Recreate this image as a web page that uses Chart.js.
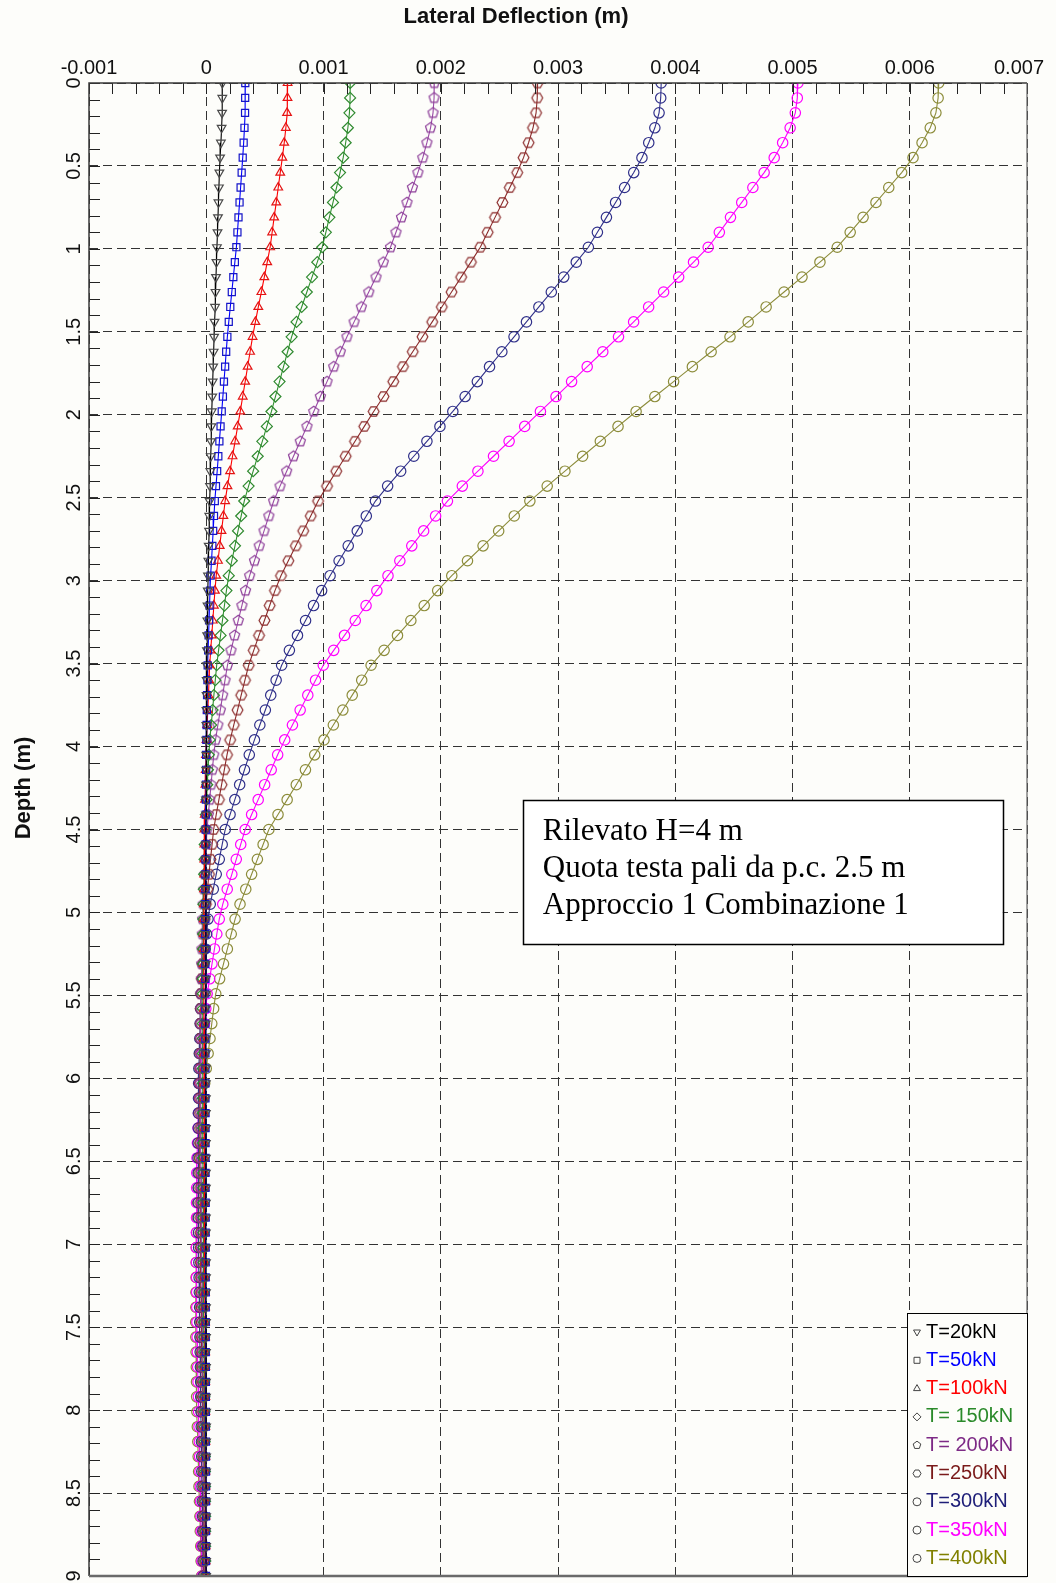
<!DOCTYPE html>
<html>
<head>
<meta charset="utf-8">
<script src="https://cdn.jsdelivr.net/npm/chart.js@4.4.1/dist/chart.umd.min.js"></script>
<style>
html,body{margin:0;padding:0;background:#fdfdfa;}
canvas{display:block;}
</style>
</head>
<body>
<canvas id="c" width="1056" height="1583"></canvas>
<script>
// ---------------- DATA ----------------
const depths = [0,0.09,0.18,0.27,0.36,0.45,0.54,0.63,0.72,0.81,0.9,0.99,1.08,1.17,1.26,1.35,1.44,1.53,1.62,1.71,1.8,1.89,1.98,2.07,2.16,2.25,2.34,2.43,2.52,2.61,2.7,2.79,2.88,2.97,3.06,3.15,3.24,3.33,3.42,3.51,3.6,3.69,3.78,3.87,3.96,4.05,4.14,4.23,4.32,4.41,4.5,4.59,4.68,4.77,4.86,4.95,5.04,5.13,5.22,5.31,5.4,5.49,5.58,5.67,5.76,5.85,5.94,6.03,6.12,6.21,6.3,6.39,6.48,6.57,6.66,6.75,6.84,6.93,7.02,7.11,7.2,7.29,7.38,7.47,7.56,7.65,7.74,7.83,7.92,8.01,8.1,8.19,8.28,8.37,8.46,8.55,8.64,8.73,8.82,8.91,9.0];

const seriesLabels = ['T=20kN','T=50kN','T=100kN','T= 150kN','T= 200kN','T=250kN','T=300kN','T=350kN','T=400kN'];

const defl20 = [
0.137e-3,0.137e-3,0.135e-3,0.131e-3,0.125e-3,0.118e-3,
0.112e-3,0.108e-3,0.104e-3,0.1e-3,0.096e-3,0.091e-3,
0.087e-3,0.083e-3,0.079e-3,0.075e-3,0.071e-3,
0.067e-3,0.063e-3,0.059e-3,0.055e-3,0.051e-3,0.047e-3,
0.044e-3,0.041e-3,0.038e-3,0.035e-3,0.032e-3,
0.029e-3,0.026e-3,0.024e-3,0.021e-3,0.018e-3,0.015e-3,
0.013e-3,0.011e-3,0.01e-3,0.008e-3,0.006e-3,
0.005e-3,0.004e-3,0.003e-3,0.002e-3,0.001e-3,0,
0,-0.001e-3,-0.001e-3,-0.002e-3,-0.002e-3,
-0.003e-3,
-0.003e-3,-0.004e-3,-0.004e-3,-0.004e-3,-0.004e-3,
-0.004e-3,-0.004e-3,-0.004e-3,-0.004e-3,-0.004e-3,-0.004e-3,
-0.004e-3,-0.004e-3,-0.004e-3,-0.003e-3,-0.003e-3,
-0.003e-3,-0.003e-3,-0.003e-3,-0.003e-3,-0.003e-3,-0.003e-3,
-0.003e-3,-0.003e-3,-0.003e-3,-0.003e-3,-0.003e-3,
-0.002e-3,-0.002e-3,-0.002e-3,-0.002e-3,-0.002e-3,-0.002e-3,
-0.002e-3,-0.002e-3,-0.002e-3,-0.002e-3,-0.002e-3,
-0.001e-3,-0.001e-3,-0.001e-3,-0.001e-3,-0.001e-3,-0.001e-3,
-0.001e-3,-0.001e-3,-0.001e-3,-0.001e-3,-0.001e-3,-0.001e-3];

const defl50 = [
0.333e-3,0.332e-3,0.331e-3,0.326e-3,0.319e-3,0.311e-3,
0.302e-3,0.293e-3,0.284e-3,0.275e-3,0.266e-3,0.257e-3,
0.244e-3,0.231e-3,0.218e-3,0.205e-3,0.192e-3,
0.18e-3,0.17e-3,0.161e-3,0.151e-3,0.142e-3,0.132e-3,
0.122e-3,0.112e-3,0.103e-3,0.093e-3,0.083e-3,
0.073e-3,0.066e-3,0.059e-3,0.052e-3,0.045e-3,0.037e-3,
0.032e-3,0.028e-3,0.024e-3,0.02e-3,0.016e-3,
0.012e-3,0.01e-3,0.007e-3,0.005e-3,0.003e-3,0.001e-3,
-0.001e-3,-0.001e-3,-0.002e-3,-0.003e-3,-0.004e-3,
-0.005e-3,
-0.006e-3,-0.006e-3,-0.007e-3,-0.007e-3,-0.008e-3,
-0.008e-3,-0.008e-3,-0.008e-3,-0.008e-3,-0.008e-3,-0.008e-3,
-0.008e-3,-0.008e-3,-0.008e-3,-0.007e-3,-0.007e-3,
-0.007e-3,-0.007e-3,-0.006e-3,-0.006e-3,-0.006e-3,-0.006e-3,
-0.006e-3,-0.006e-3,-0.005e-3,-0.005e-3,-0.005e-3,
-0.005e-3,-0.005e-3,-0.005e-3,-0.004e-3,-0.004e-3,-0.004e-3,
-0.004e-3,-0.004e-3,-0.003e-3,-0.003e-3,-0.003e-3,
-0.003e-3,-0.003e-3,-0.003e-3,-0.002e-3,-0.002e-3,-0.002e-3,
-0.002e-3,-0.002e-3,-0.002e-3,-0.002e-3,-0.002e-3,-0.002e-3];

const defl100 = [
0.694e-3,0.693e-3,0.689e-3,0.679e-3,0.665e-3,0.649e-3,
0.631e-3,0.614e-3,0.597e-3,0.579e-3,0.562e-3,0.545e-3,
0.52e-3,0.495e-3,0.47e-3,0.444e-3,0.419e-3,
0.395e-3,0.374e-3,0.353e-3,0.332e-3,0.311e-3,0.29e-3,
0.268e-3,0.246e-3,0.224e-3,0.203e-3,0.181e-3,
0.161e-3,0.146e-3,0.13e-3,0.115e-3,0.1e-3,0.085e-3,
0.074e-3,0.065e-3,0.056e-3,0.047e-3,0.038e-3,
0.029e-3,0.024e-3,0.019e-3,0.013e-3,0.008e-3,0.002e-3,
-0.002e-3,-0.004e-3,-0.007e-3,-0.01e-3,-0.012e-3,
-0.015e-3,
-0.016e-3,-0.017e-3,-0.018e-3,-0.019e-3,-0.02e-3,
-0.02e-3,-0.02e-3,-0.02e-3,-0.02e-3,-0.02e-3,-0.02e-3,
-0.02e-3,-0.019e-3,-0.019e-3,-0.019e-3,-0.018e-3,
-0.018e-3,-0.017e-3,-0.017e-3,-0.016e-3,-0.016e-3,-0.015e-3,
-0.015e-3,-0.014e-3,-0.014e-3,-0.013e-3,-0.012e-3,
-0.012e-3,-0.012e-3,-0.011e-3,-0.011e-3,-0.01e-3,-0.01e-3,
-0.01e-3,-0.009e-3,-0.009e-3,-0.009e-3,-0.008e-3,
-0.008e-3,-0.008e-3,-0.007e-3,-0.007e-3,-0.007e-3,-0.006e-3,
-0.006e-3,-0.006e-3,-0.006e-3,-0.005e-3,-0.005e-3,-0.005e-3];

const defl150 = [
1.228e-3,1.227e-3,1.221e-3,1.208e-3,1.189e-3,1.168e-3,
1.141e-3,1.111e-3,1.081e-3,1.05e-3,1.02e-3,0.989e-3,
0.947e-3,0.902e-3,0.858e-3,0.814e-3,0.77e-3,
0.728e-3,0.694e-3,0.659e-3,0.625e-3,0.59e-3,0.556e-3,
0.517e-3,0.478e-3,0.439e-3,0.4e-3,0.361e-3,
0.324e-3,0.298e-3,0.271e-3,0.245e-3,0.218e-3,0.192e-3,
0.172e-3,0.155e-3,0.138e-3,0.122e-3,0.105e-3,
0.089e-3,0.077e-3,0.065e-3,0.054e-3,0.042e-3,0.03e-3,
0.022e-3,0.015e-3,0.009e-3,0.003e-3,-0.004e-3,
-0.01e-3,
-0.013e-3,-0.015e-3,-0.018e-3,-0.021e-3,-0.024e-3,
-0.025e-3,-0.026e-3,-0.027e-3,-0.028e-3,-0.029e-3,-0.03e-3,
-0.03e-3,-0.03e-3,-0.03e-3,-0.03e-3,-0.03e-3,
-0.03e-3,-0.03e-3,-0.029e-3,-0.029e-3,-0.028e-3,-0.028e-3,
-0.027e-3,-0.027e-3,-0.026e-3,-0.025e-3,-0.025e-3,
-0.024e-3,-0.023e-3,-0.022e-3,-0.022e-3,-0.021e-3,-0.02e-3,
-0.019e-3,-0.019e-3,-0.018e-3,-0.017e-3,-0.016e-3,
-0.015e-3,-0.014e-3,-0.013e-3,-0.012e-3,-0.011e-3,-0.01e-3,
-0.01e-3,-0.009e-3,-0.009e-3,-0.009e-3,-0.008e-3,-0.008e-3];

const defl200 = [
1.945e-3,1.943e-3,1.934e-3,1.913e-3,1.882e-3,1.847e-3,
1.805e-3,1.758e-3,1.712e-3,1.665e-3,1.618e-3,1.571e-3,
1.51e-3,1.448e-3,1.386e-3,1.323e-3,1.261e-3,
1.2e-3,1.143e-3,1.087e-3,1.03e-3,0.973e-3,0.917e-3,
0.859e-3,0.802e-3,0.744e-3,0.686e-3,0.629e-3,
0.575e-3,0.534e-3,0.493e-3,0.452e-3,0.411e-3,0.37e-3,
0.335e-3,0.304e-3,0.273e-3,0.242e-3,0.211e-3,
0.181e-3,0.16e-3,0.14e-3,0.12e-3,0.099e-3,0.079e-3,
0.064e-3,0.052e-3,0.041e-3,0.029e-3,0.018e-3,
0.006e-3,
0,-0.007e-3,-0.013e-3,-0.02e-3,-0.026e-3,
-0.031e-3,-0.034e-3,-0.037e-3,-0.039e-3,-0.042e-3,-0.045e-3,
-0.046e-3,-0.047e-3,-0.048e-3,-0.049e-3,-0.049e-3,
-0.05e-3,-0.049e-3,-0.048e-3,-0.047e-3,-0.046e-3,-0.045e-3,
-0.044e-3,-0.043e-3,-0.043e-3,-0.042e-3,-0.041e-3,
-0.04e-3,-0.038e-3,-0.036e-3,-0.034e-3,-0.032e-3,-0.031e-3,
-0.029e-3,-0.029e-3,-0.028e-3,-0.027e-3,-0.026e-3,
-0.025e-3,-0.024e-3,-0.023e-3,-0.022e-3,-0.021e-3,-0.02e-3,
-0.02e-3,-0.019e-3,-0.018e-3,-0.017e-3,-0.016e-3,-0.015e-3];

const defl250 = [
2.826e-3,2.823e-3,2.813e-3,2.787e-3,2.749e-3,2.706e-3,
2.652e-3,2.589e-3,2.526e-3,2.463e-3,2.4e-3,2.337e-3,
2.257e-3,2.174e-3,2.092e-3,2.009e-3,1.927e-3,
1.844e-3,1.761e-3,1.678e-3,1.595e-3,1.512e-3,1.428e-3,
1.348e-3,1.269e-3,1.189e-3,1.109e-3,1.03e-3,
0.954e-3,0.891e-3,0.827e-3,0.764e-3,0.7e-3,0.637e-3,
0.586e-3,0.541e-3,0.496e-3,0.45e-3,0.405e-3,
0.362e-3,0.33e-3,0.298e-3,0.267e-3,0.235e-3,0.204e-3,
0.177e-3,0.154e-3,0.131e-3,0.108e-3,0.085e-3,
0.063e-3,
0.05e-3,0.036e-3,0.023e-3,0.01e-3,-0.003e-3,
-0.013e-3,-0.019e-3,-0.025e-3,-0.032e-3,-0.038e-3,-0.044e-3,
-0.047e-3,-0.048e-3,-0.05e-3,-0.052e-3,-0.054e-3,
-0.055e-3,-0.055e-3,-0.055e-3,-0.055e-3,-0.055e-3,-0.055e-3,
-0.054e-3,-0.053e-3,-0.053e-3,-0.052e-3,-0.051e-3,
-0.05e-3,-0.048e-3,-0.046e-3,-0.044e-3,-0.042e-3,-0.041e-3,
-0.039e-3,-0.037e-3,-0.035e-3,-0.033e-3,-0.032e-3,
-0.03e-3,-0.029e-3,-0.028e-3,-0.027e-3,-0.026e-3,-0.025e-3,
-0.025e-3,-0.024e-3,-0.023e-3,-0.022e-3,-0.021e-3,-0.02e-3];

const defl300 = [
3.88e-3,3.876e-3,3.862e-3,3.826e-3,3.774e-3,3.716e-3,
3.646e-3,3.568e-3,3.491e-3,3.413e-3,3.336e-3,3.259e-3,
3.156e-3,3.049e-3,2.943e-3,2.837e-3,2.731e-3,
2.625e-3,2.521e-3,2.416e-3,2.312e-3,2.208e-3,2.103e-3,
1.993e-3,1.882e-3,1.77e-3,1.658e-3,1.547e-3,
1.443e-3,1.365e-3,1.288e-3,1.211e-3,1.133e-3,1.056e-3,
0.984e-3,0.915e-3,0.847e-3,0.778e-3,0.709e-3,
0.643e-3,0.596e-3,0.55e-3,0.504e-3,0.457e-3,0.411e-3,
0.367e-3,0.326e-3,0.285e-3,0.244e-3,0.203e-3,
0.162e-3,
0.136e-3,0.111e-3,0.085e-3,0.06e-3,0.034e-3,
0.015e-3,0.003e-3,-0.009e-3,-0.02e-3,-0.032e-3,-0.044e-3,
-0.048e-3,-0.052e-3,-0.055e-3,-0.059e-3,-0.063e-3,
-0.065e-3,-0.066e-3,-0.067e-3,-0.068e-3,-0.069e-3,-0.07e-3,
-0.069e-3,-0.068e-3,-0.068e-3,-0.067e-3,-0.066e-3,
-0.065e-3,-0.063e-3,-0.061e-3,-0.059e-3,-0.057e-3,-0.056e-3,
-0.054e-3,-0.052e-3,-0.05e-3,-0.048e-3,-0.047e-3,
-0.045e-3,-0.043e-3,-0.041e-3,-0.039e-3,-0.038e-3,-0.036e-3,
-0.034e-3,-0.032e-3,-0.03e-3,-0.029e-3,-0.027e-3,-0.025e-3];

const defl350 = [
5.046e-3,5.041e-3,5.024e-3,4.98e-3,4.916e-3,4.844e-3,
4.758e-3,4.662e-3,4.567e-3,4.471e-3,4.376e-3,4.281e-3,
4.156e-3,4.029e-3,3.901e-3,3.773e-3,3.645e-3,
3.516e-3,3.382e-3,3.249e-3,3.116e-3,2.983e-3,2.85e-3,
2.716e-3,2.583e-3,2.45e-3,2.317e-3,2.184e-3,
2.057e-3,1.956e-3,1.854e-3,1.753e-3,1.651e-3,1.55e-3,
1.455e-3,1.363e-3,1.271e-3,1.179e-3,1.087e-3,
0.998e-3,0.932e-3,0.866e-3,0.801e-3,0.735e-3,0.669e-3,
0.609e-3,0.554e-3,0.498e-3,0.443e-3,0.387e-3,
0.332e-3,
0.294e-3,0.256e-3,0.218e-3,0.179e-3,0.141e-3,
0.111e-3,0.09e-3,0.07e-3,0.049e-3,0.029e-3,0.008e-3,
-0.004e-3,-0.015e-3,-0.026e-3,-0.037e-3,-0.048e-3,
-0.057e-3,-0.061e-3,-0.066e-3,-0.07e-3,-0.075e-3,-0.079e-3,
-0.081e-3,-0.082e-3,-0.083e-3,-0.083e-3,-0.084e-3,
-0.085e-3,-0.084e-3,-0.083e-3,-0.082e-3,-0.081e-3,-0.08e-3,
-0.078e-3,-0.076e-3,-0.073e-3,-0.07e-3,-0.067e-3,
-0.065e-3,-0.062e-3,-0.059e-3,-0.057e-3,-0.054e-3,-0.051e-3,
-0.049e-3,-0.046e-3,-0.043e-3,-0.04e-3,-0.038e-3,-0.035e-3];

const defl400 = [
6.247e-3,6.242e-3,6.223e-3,6.175e-3,6.105e-3,6.028e-3,
5.931e-3,5.821e-3,5.712e-3,5.602e-3,5.492e-3,5.382e-3,
5.234e-3,5.081e-3,4.928e-3,4.775e-3,4.622e-3,
4.467e-3,4.306e-3,4.146e-3,3.986e-3,3.826e-3,3.666e-3,
3.512e-3,3.361e-3,3.21e-3,3.059e-3,2.908e-3,
2.76e-3,2.627e-3,2.494e-3,2.361e-3,2.228e-3,2.094e-3,
1.974e-3,1.859e-3,1.745e-3,1.631e-3,1.517e-3,
1.406e-3,1.326e-3,1.245e-3,1.165e-3,1.084e-3,1.004e-3,
0.925e-3,0.846e-3,0.768e-3,0.69e-3,0.612e-3,
0.534e-3,
0.485e-3,0.436e-3,0.387e-3,0.337e-3,0.288e-3,
0.246e-3,0.213e-3,0.18e-3,0.147e-3,0.114e-3,0.081e-3,
0.063e-3,0.047e-3,0.032e-3,0.016e-3,0,
-0.013e-3,-0.022e-3,-0.031e-3,-0.04e-3,-0.049e-3,-0.058e-3,
-0.064e-3,-0.068e-3,-0.073e-3,-0.077e-3,-0.082e-3,
-0.085e-3,-0.086e-3,-0.087e-3,-0.088e-3,-0.089e-3,-0.09e-3,
-0.089e-3,-0.087e-3,-0.085e-3,-0.083e-3,-0.082e-3,
-0.08e-3,-0.076e-3,-0.072e-3,-0.069e-3,-0.065e-3,-0.062e-3,
-0.058e-3,-0.054e-3,-0.051e-3,-0.047e-3,-0.044e-3,-0.04e-3];

const xTickValues = [-0.001,0,0.001,0.002,0.003,0.004,0.005,0.006,0.007];
const xTickLabels = ['-0.001','0','0.001','0.002','0.003','0.004','0.005','0.006','0.007'];
const yTickValues = [0,0.5,1,1.5,2,2.5,3,3.5,4,4.5,5,5.5,6,6.5,7,7.5,8,8.5,9];
const yTickLabels = ['0','0.5','1','1.5','2','2.5','3','3.5','4','4.5','5','5.5','6','6.5','7','7.5','8','8.5','9'];
const xTitle = 'Lateral Deflection (m)';
const yTitle = 'Depth (m)';
const noteLines = ['Rilevato H=4 m','Quota testa pali da p.c. 2.5 m','Approccio 1 Combinazione 1'];

// ---------------- STYLE ----------------
function polyCanvas(sides, r, color, startDeg) {
  const c = document.createElement('canvas');
  const s = Math.ceil(2 * r + 4);
  c.width = s; c.height = s;
  const g = c.getContext('2d');
  g.strokeStyle = color; g.lineWidth = 1.2;
  g.beginPath();
  for (let k = 0; k < sides; k++) {
    const a = (startDeg + k * 360 / sides) * Math.PI / 180;
    const px = s / 2 + r * Math.cos(a), py = s / 2 + r * Math.sin(a);
    if (k) g.lineTo(px, py); else g.moveTo(px, py);
  }
  g.closePath(); g.stroke();
  return c;
}
const seriesValues = [defl20, defl50, defl100, defl150, defl200, defl250, defl300, defl350, defl400];
const seriesStyle = [
  {line:'#000000', point:'#4a4a4a', text:'#000000', ps:'triangle', rot:180, r:5, leg:'tridown'},
  {line:'#0000ff', point:'#1414c8', text:'#0000ff', ps:'rect', rot:0, r:5, leg:'square'},
  {line:'#ff0000', point:'#e41414', text:'#ff0000', ps:'triangle', rot:0, r:5, leg:'triup'},
  {line:'#2f8f2f', point:'#2f8a2f', text:'#2a8a2a', ps:'rectRot', rot:0, r:5.5, leg:'diamond'},
  {line:'#9a4aa6', point:'#8c3c98', text:'#7d2a86', ps:polyCanvas(5, 5.3, '#8c3c98', -90), rot:0, r:5, leg:'penta'},
  {line:'#8b2a2a', point:'#8b2a2a', text:'#7a1a1a', ps:polyCanvas(6, 5.4, '#8b2a2a', 0), rot:0, r:5, leg:'hexa'},
  {line:'#30308a', point:'#30308a', text:'#1e1e78', ps:'circle', rot:0, r:5.2, leg:'circle'},
  {line:'#ff00ff', point:'#ff00ff', text:'#ff00ff', ps:'circle', rot:0, r:5.2, leg:'circle'},
  {line:'#8c8c3a', point:'#8c8c3a', text:'#808000', ps:'circle', rot:0, r:5.2, leg:'circle'}
];

const datasets = seriesValues.map((vals, i) => ({
  label: seriesLabels[i],
  data: vals.map((v, j) => ({x: v, y: depths[j]})),
  showLine: true,
  borderColor: seriesStyle[i].line,
  borderWidth: 1.1,
  pointStyle: seriesStyle[i].ps,
  pointRotation: seriesStyle[i].rot,
  pointRadius: seriesStyle[i].r,
  pointBorderWidth: 1.2,
  pointBorderColor: seriesStyle[i].point,
  pointBackgroundColor: 'rgba(0,0,0,0)',
  tension: 0,
  fill: false
}));

const FONT = "Arial, 'Liberation Sans', sans-serif";

const decor = {
  id: 'decor',
  beforeDraw(chart) {
    const ctx = chart.ctx;
    ctx.save();
    ctx.fillStyle = '#fdfdfa';
    ctx.fillRect(0, 0, chart.width, chart.height);
    ctx.restore();
  },
  afterDraw(chart) {
    const ctx = chart.ctx;
    const a = chart.chartArea;
    const xs = chart.scales.x, ys = chart.scales.y;
    ctx.save();
    // minor ticks (inward)
    ctx.strokeStyle = '#222';
    ctx.lineWidth = 1;
    ctx.beginPath();
    for (let k = 0; k <= 40; k++) {
      const px = Math.round(xs.getPixelForValue(xs.min + k * 0.0002)) + 0.5;
      ctx.moveTo(px, a.top); ctx.lineTo(px, a.top + 11);
    }
    for (let k = 0; k <= 90; k++) {
      const py = Math.round(ys.getPixelForValue(k * 0.1)) + 0.5;
      ctx.moveTo(a.left, py); ctx.lineTo(a.left + 11, py);
    }
    ctx.stroke();
    // frame
    ctx.lineWidth = 1.5; ctx.strokeStyle = '#3a3a3a';
    ctx.beginPath();
    ctx.moveTo(a.left, a.bottom); ctx.lineTo(a.left, a.top); ctx.lineTo(a.right, a.top);
    ctx.stroke();
    ctx.lineWidth = 1.2; ctx.strokeStyle = '#666';
    ctx.beginPath(); ctx.moveTo(a.right, a.top); ctx.lineTo(a.right, a.bottom); ctx.stroke();
    ctx.lineWidth = 2.5; ctx.strokeStyle = '#6a6a6a';
    ctx.beginPath(); ctx.moveTo(a.left, a.bottom); ctx.lineTo(a.right, a.bottom); ctx.stroke();

    // x tick labels
    ctx.fillStyle = '#111';
    ctx.font = '20px ' + FONT;
    ctx.textAlign = 'center'; ctx.textBaseline = 'middle';
    xTickValues.forEach((v, i) => {
      const w = ctx.measureText(xTickLabels[i]).width;
      let cx = xs.getPixelForValue(v);
      if (cx + w / 2 > chart.width - 12) cx = chart.width - 12 - w / 2;
      ctx.fillText(xTickLabels[i], cx, a.top - 15);
    });
    // y tick labels (rotated)
    yTickValues.forEach((v, i) => {
      ctx.save();
      ctx.translate(a.left - 15, ys.getPixelForValue(v));
      ctx.rotate(-Math.PI / 2);
      ctx.fillText(yTickLabels[i], 0, 0);
      ctx.restore();
    });
    // titles
    ctx.font = 'bold 22px ' + FONT;
    ctx.fillText(xTitle, 516, 17);
    ctx.save();
    ctx.translate(24, 788);
    ctx.rotate(-Math.PI / 2);
    ctx.fillText(yTitle, 0, 0);
    ctx.restore();

    // annotation box
    const bx = xs.getPixelForValue(0.0027), by = ys.getPixelForValue(4.325);
    const bw = 480, bh = 144;
    ctx.fillStyle = '#ffffff';
    ctx.fillRect(bx, by, bw, bh);
    ctx.lineWidth = 1.5; ctx.strokeStyle = '#000';
    ctx.strokeRect(Math.round(bx) + 0.5, Math.round(by) + 0.5, bw, bh);
    ctx.fillStyle = '#000';
    ctx.font = "31px 'Liberation Serif', 'Times New Roman', serif";
    ctx.textAlign = 'left'; ctx.textBaseline = 'alphabetic';
    noteLines.forEach((t, i) => ctx.fillText(t, bx + 20, by + 40 + i * 36.7));

    // legend
    const lx = a.right - 120, ly = a.bottom - 263;
    ctx.fillStyle = '#fdfdfa';
    ctx.fillRect(lx, ly, a.right - lx, a.bottom - ly);
    ctx.lineWidth = 1; ctx.strokeStyle = '#000';
    ctx.strokeRect(Math.round(lx) + 0.5, Math.round(ly) + 0.5, a.right - lx, a.bottom - ly);
    ctx.font = '20px ' + FONT;
    ctx.textBaseline = 'middle';
    seriesLabels.forEach((lab, i) => {
      const cy = ly + 19 + i * 28.3;
      const mx = lx + 10;
      ctx.strokeStyle = '#444'; ctx.lineWidth = 1;
      ctx.beginPath();
      const st = seriesStyle[i].leg;
      const r = 4;
      const poly = (n, start) => {
        for (let k = 0; k < n; k++) {
          const ang = (start + k * 360 / n) * Math.PI / 180;
          const px = mx + r * Math.cos(ang), py = cy + r * Math.sin(ang);
          if (k) ctx.lineTo(px, py); else ctx.moveTo(px, py);
        }
        ctx.closePath();
      };
      if (st === 'tridown') poly(3, 90);
      else if (st === 'triup') poly(3, -90);
      else if (st === 'square') ctx.rect(mx - 3, cy - 3, 6, 6);
      else if (st === 'diamond') poly(4, -90);
      else if (st === 'penta') poly(5, -90);
      else if (st === 'hexa') poly(6, 0);
      else ctx.arc(mx, cy, r, 0, Math.PI * 2);
      ctx.stroke();
      ctx.fillStyle = seriesStyle[i].text;
      ctx.fillText(lab, lx + 19, cy);
    });
    ctx.restore();
  }
};

new Chart(document.getElementById('c'), {
  type: 'scatter',
  data: { datasets },
  options: {
    responsive: false,
    animation: false,
    devicePixelRatio: 1,
    layout: { padding: { left: 89, top: 83, right: 29, bottom: 7 }, autoPadding: false },
    plugins: { legend: { display: false }, tooltip: { enabled: false }, title: { display: false } },
    scales: {
      x: {
        type: 'linear', position: 'top', min: -0.001, max: 0.007,
        ticks: { display: false, stepSize: 0.001 },
        grid: { color: '#333', lineWidth: 1, drawTicks: false },
        border: { display: false, dash: [9, 5] }
      },
      y: {
        type: 'linear', reverse: true, min: 0, max: 9,
        ticks: { display: false, stepSize: 0.5 },
        grid: { color: '#333', lineWidth: 1, drawTicks: false },
        border: { display: false, dash: [9, 5] }
      }
    }
  },
  plugins: [decor]
});
</script>
</body>
</html>
